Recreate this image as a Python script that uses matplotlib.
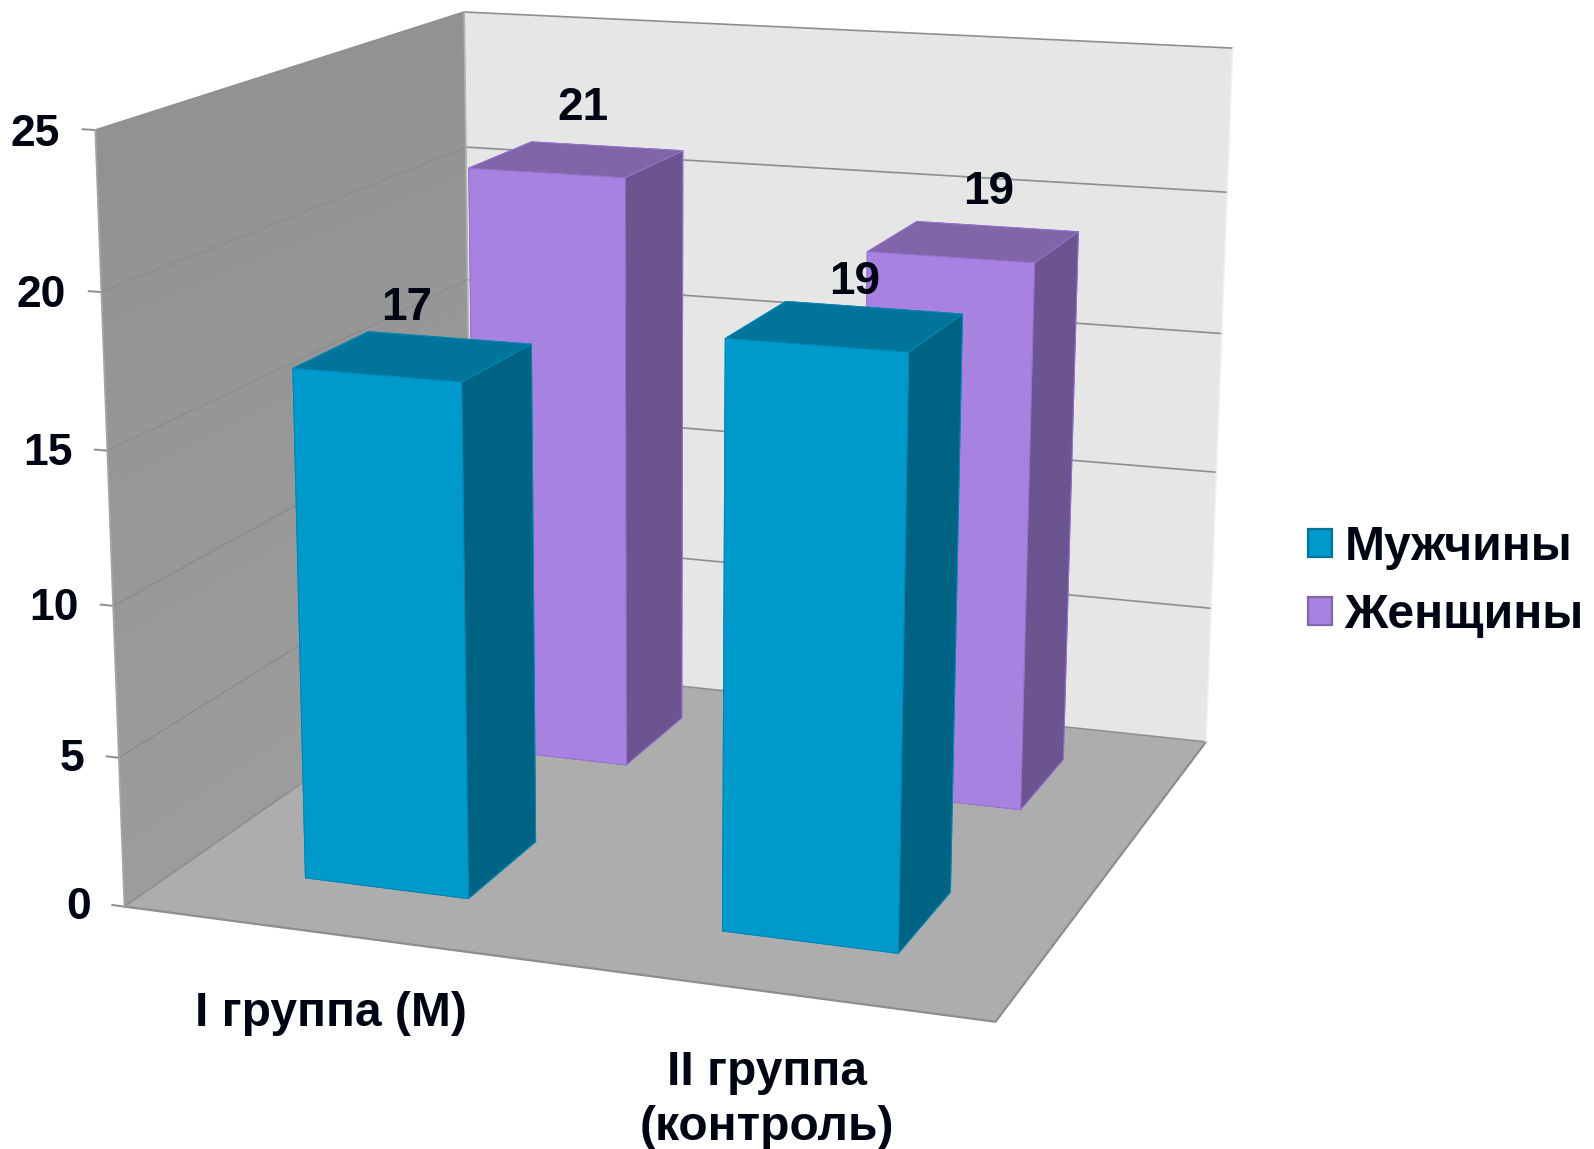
import numpy as np
import matplotlib
matplotlib.use("Agg")
import matplotlib.pyplot as plt
from matplotlib.patches import Patch
from mpl_toolkits.mplot3d.art3d import Poly3DCollection

# Chart values
categories = ["I группа (М)", "II группа\n(контроль)"]
series_names = ["Мужчины", "Женщины"]
men_values = [17, 19]
women_values = [21, 19]
value_ticks = [0, 5, 10, 15, 20, 25]

# Layout of the bars inside the box
BAR_WIDTH = 0.40
BAR_DEPTH = 0.205
GROUP_LEFT = [0.30, 1.30]
SERIES_FRONT = [0.155, 0.665]
BOX_X, BOX_Y, BOX_Z = 2.0, 1.0, 25.0
BACK_LEFT_X = 0.015  # the rear corner of the box sits slightly inwards

# Nudges of the value labels: sideways along the box and upwards in value units
MEN_LABEL_NUDGE = [(-0.015, 1.55), (0.018, 1.39)]
WOMEN_LABEL_NUDGE = [(0.017, 1.81), (0.033, 1.71)]

# Palette: (front, top, side, edge)
MEN_COLORS = ("#0099CC", "#00749B", "#006384", "#0088B5")
WOMEN_COLORS = ("#A882E0", "#8065A8", "#6B548F", "#9672CC")
WALL_BACK = "#E6E6E6"
FLOOR = "#ADADAD"
LINE = "#8E8E8E"
INK = "#000514"

plt.rcParams["font.family"] = ["Liberation Sans", "DejaVu Sans"]
plt.rcParams["font.weight"] = "bold"

# Perspective camera: maps box coordinates to canvas units of 1568x1130
CAMERA = np.array([
    [0.3634114155777489, 0.3987516999004929, -0.0012464722937978712, 0.11359216539288236],
    [0.0174065403227966, -0.1001978289462892, -0.02860216537215557, 0.8275644489457854],
    [-3.499155143500472e-05, 0.0001864166221395448, -1.933237071105501e-06, 0.0009281964449421403],
])
view_matrix = np.vstack([CAMERA[0], CAMERA[1], [0, 0, 0, -1], CAMERA[2]])

fig = plt.figure(figsize=(15.94, 11.49), dpi=100, facecolor="white")
ax = fig.add_axes([0, 0, 1, 1], projection="3d")
ax.set_proj_type("ortho")  # the custom matrix already carries the perspective
ax.set_xticks([])
ax.set_yticks([])
ax.set_zticks([])
ax.set_axis_off()
ax.computed_zorder = False
ax.get_proj = lambda: view_matrix
ax.apply_aspect = lambda position=None: None
ax.viewLim.intervalx = (0, 1568)
ax.viewLim.intervaly = (1130, 0)


def add_quad(corners, face, edge=None, zorder=1, lw=0.0):
    poly = Poly3DCollection([corners], facecolors=face,
                            edgecolors=edge if edge else face, linewidths=lw)
    poly.set_zorder(zorder)
    ax.add_collection3d(poly)


# Left wall with a faint vertical shading, then back wall and floor
steps = 25
for i in range(steps):
    z0, z1 = BOX_Z * i / steps, BOX_Z * (i + 1) / steps
    g = (0x9C + (0x92 - 0x9C) * i / (steps - 1)) / 255
    add_quad([(0, 0, z0), (BACK_LEFT_X, BOX_Y, z0), (BACK_LEFT_X, BOX_Y, z1), (0, 0, z1)],
             (g, g, g), (g, g, g), lw=0.6)
add_quad([(BACK_LEFT_X, BOX_Y, 0), (BOX_X, BOX_Y, 0), (BOX_X, BOX_Y, BOX_Z), (BACK_LEFT_X, BOX_Y, BOX_Z)], WALL_BACK)
add_quad([(0, 0, 0), (BOX_X, 0, 0), (BOX_X, BOX_Y, 0), (BACK_LEFT_X, BOX_Y, 0)], FLOOR)

# Gridlines wrap around the two walls
for z in value_ticks:
    ax.plot([0, BACK_LEFT_X, BOX_X], [0, BOX_Y, BOX_Y], [z, z, z], color=LINE, lw=1.2, zorder=2)
    ax.plot([-0.03, 0], [0, 0], [z, z], color=LINE, lw=1.4, zorder=2)

# Box outline
ax.plot([0, BOX_X, BOX_X], [0, 0, BOX_Y], [0, 0, 0], color=LINE, lw=1.6, zorder=2)
ax.plot([0, 0], [0, 0], [0, BOX_Z], color="#A6A6A6", lw=1.2, zorder=2)
ax.plot([BACK_LEFT_X, BACK_LEFT_X], [BOX_Y, BOX_Y], [0, BOX_Z], color="#B4B4B4", lw=1.2, zorder=2)
ax.plot([BOX_X, BOX_X], [BOX_Y, BOX_Y], [0, BOX_Z], color="#F0F0F0", lw=1.0, zorder=2)


def add_bar(x, y, height, colors, zorder):
    front, top, side, edge = colors
    bar = ax.bar3d(x, y, 0, BAR_WIDTH, BAR_DEPTH, height, shade=False,
                   color=[front, top, front, side, side, side],
                   edgecolor=edge, linewidth=0.7)
    bar.set_zorder(zorder)


# Back row first so the front row overlaps it
for left, v in zip(GROUP_LEFT, women_values):
    add_bar(left, SERIES_FRONT[1], v, WOMEN_COLORS, 3)
for left, v in zip(GROUP_LEFT, men_values):
    add_bar(left, SERIES_FRONT[0], v, MEN_COLORS, 4)

# Value labels hover above the bar tops
for row, values, nudges in zip(SERIES_FRONT, [men_values, women_values],
                               [MEN_LABEL_NUDGE, WOMEN_LABEL_NUDGE]):
    for left, v, (dx, dz) in zip(GROUP_LEFT, values, nudges):
        ax.text(left + BAR_WIDTH / 2 + dx, row + BAR_DEPTH / 2, v + dz, str(v),
                ha="center", va="center", fontsize=33, color=INK, zorder=6)

# Value axis labels
for z in value_ticks:
    ax.text(-0.085, 0, z - 0.2, str(z), ha="right", va="center",
            fontsize=32, color=INK, zorder=6)

# Category labels below the front edge
for x, y, label in zip([0.697, 1.687], [-0.214, -0.276], categories):
    ax.text(x, y, 0, label, ha="center", va="center", fontsize=34.5,
            color=INK, linespacing=1.31, zorder=6)

handles = [
    Patch(facecolor=MEN_COLORS[0], edgecolor=MEN_COLORS[1], linewidth=1.6),
    Patch(facecolor=WOMEN_COLORS[0], edgecolor=WOMEN_COLORS[1], linewidth=1.6),
]
fig.legend(handles, series_names, loc="center left", bbox_to_anchor=(0.8205, 0.4938),
           frameon=False, fontsize=34.6, labelcolor=INK, borderpad=0, borderaxespad=0,
           handlelength=0.51, handleheight=0.51, handletextpad=0.25, labelspacing=0.48)

fig.savefig("out.png", dpi=100, facecolor="white")
